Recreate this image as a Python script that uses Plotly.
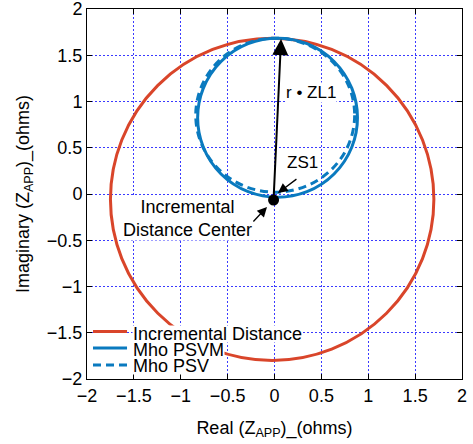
import plotly.graph_objects as go

# ---- data ----
tick_vals = [-2, -1.5, -1, -0.5, 0, 0.5, 1, 1.5, 2]

circle_names = ["Incremental Distance", "Mho PSVM", "Mho PSV"]
circle_left = [-1.75, -0.82, -0.84]
circle_right = [1.70, 0.885, 0.855]
circle_bottom = [-1.80, -0.035, 0.02]
circle_top = [1.685, 1.685, 1.685]

center_x = [-0.01]
center_y = [-0.065]

reach_head = [0.07, 1.675]
zs1_arrow = [0.25, 0.173, 0.037, 0.011]      # tail x, tail y, head x, head y
center_arrow = [-0.24, -0.314, -0.08, -0.14]

FONT = "Liberation Sans, Arial, sans-serif"
RED = "#d9452a"
BLUE = "#0a7abf"

fig = go.Figure()

styles = [dict(color=RED, width=3), dict(color=BLUE, width=3),
          dict(color=BLUE, width=3, dash="8px,5px")]

shapes = []
for i in range(3):
    shapes.append(dict(type="circle", xref="x", yref="y",
                       x0=circle_left[i], x1=circle_right[i],
                       y0=circle_bottom[i], y1=circle_top[i],
                       line=styles[i], layer="between"))

fig.add_trace(go.Scatter(x=center_x, y=center_y, mode="markers",
                         marker=dict(color="black", size=11),
                         showlegend=False, hoverinfo="skip"))

# legend (manual)
leg_line_x = [-1.936, -1.573]
leg_line_y = [-1.487, -1.665, -1.849]
leg_text_y = [-1.514, -1.686, -1.859]
for i in range(3):
    shapes.append(dict(type="line", xref="x", yref="y",
                       x0=leg_line_x[0], x1=leg_line_x[1],
                       y0=leg_line_y[i], y1=leg_line_y[i],
                       line=styles[i], layer="above"))

annotations = []
for i in range(3):
    annotations.append(dict(x=-1.52, y=leg_text_y[i], xref="x", yref="y",
                            text=circle_names[i], showarrow=False,
                            xanchor="left", yanchor="middle", height=16,
                            bgcolor="white", borderpad=0,
                            font=dict(family=FONT, size=18, color="black")))

annotations += [
    dict(x=reach_head[0], y=reach_head[1], ax=center_x[0], ay=center_y[0],
         xref="x", yref="y", axref="x", ayref="y", text="", showarrow=True,
         arrowhead=2, arrowsize=1.6, arrowwidth=2, arrowcolor="black"),
    dict(x=zs1_arrow[2], y=zs1_arrow[3], ax=zs1_arrow[0], ay=zs1_arrow[1],
         xref="x", yref="y", axref="x", ayref="y", text="", showarrow=True,
         arrowhead=2, arrowsize=1.5, arrowwidth=1.3, arrowcolor="black"),
    dict(x=center_arrow[2], y=center_arrow[3], ax=center_arrow[0], ay=center_arrow[1],
         xref="x", yref="y", axref="x", ayref="y", text="", showarrow=True,
         arrowhead=2, arrowsize=1.5, arrowwidth=1.3, arrowcolor="black"),
    dict(x=0.39, y=1.10, xref="x", yref="y", text="r • ZL1", showarrow=False,
         bgcolor="white", borderpad=0,
         font=dict(family=FONT, size=17, color="black")),
    dict(x=0.30, y=0.345, xref="x", yref="y", text="ZS1", showarrow=False,
         bgcolor="white", borderpad=0,
         font=dict(family=FONT, size=17, color="black")),
    dict(x=-0.923, y=-0.26, xref="x", yref="y",
         text="Incremental<br>Distance Center", showarrow=False,
         align="center", bgcolor="white", borderpad=0,
         font=dict(family=FONT, size=18, color="black")),
]

axis_common = dict(range=[-2, 2], tickvals=tick_vals, showgrid=True,
                   gridcolor="#3a3aff", gridwidth=1, griddash="2px,2px",
                   zeroline=False, showline=True, linecolor="black",
                   linewidth=1, mirror="ticks", ticks="inside", ticklen=5,
                   tickcolor="black", automargin=False,
                   ticklabeloverflow="allow",
                   tickfont=dict(family=FONT, size=18, color="black"))

fig.update_layout(
    width=473, height=444,
    margin=dict(l=87, r=11, t=9, b=65, autoexpand=False),
    paper_bgcolor="white", plot_bgcolor="white",
    showlegend=False,
    shapes=shapes, annotations=annotations,
    xaxis=dict(**axis_common,
               title=dict(text="Real (Z<sub>APP</sub>)_(ohms)", standoff=16,
                          font=dict(family=FONT, size=18, color="black"))),
    yaxis=dict(**axis_common,
               title=dict(text="Imaginary (Z<sub>APP</sub>)_(ohms)", standoff=12,
                          font=dict(family=FONT, size=18, color="black"))),
)

fig.write_html("out.html")
